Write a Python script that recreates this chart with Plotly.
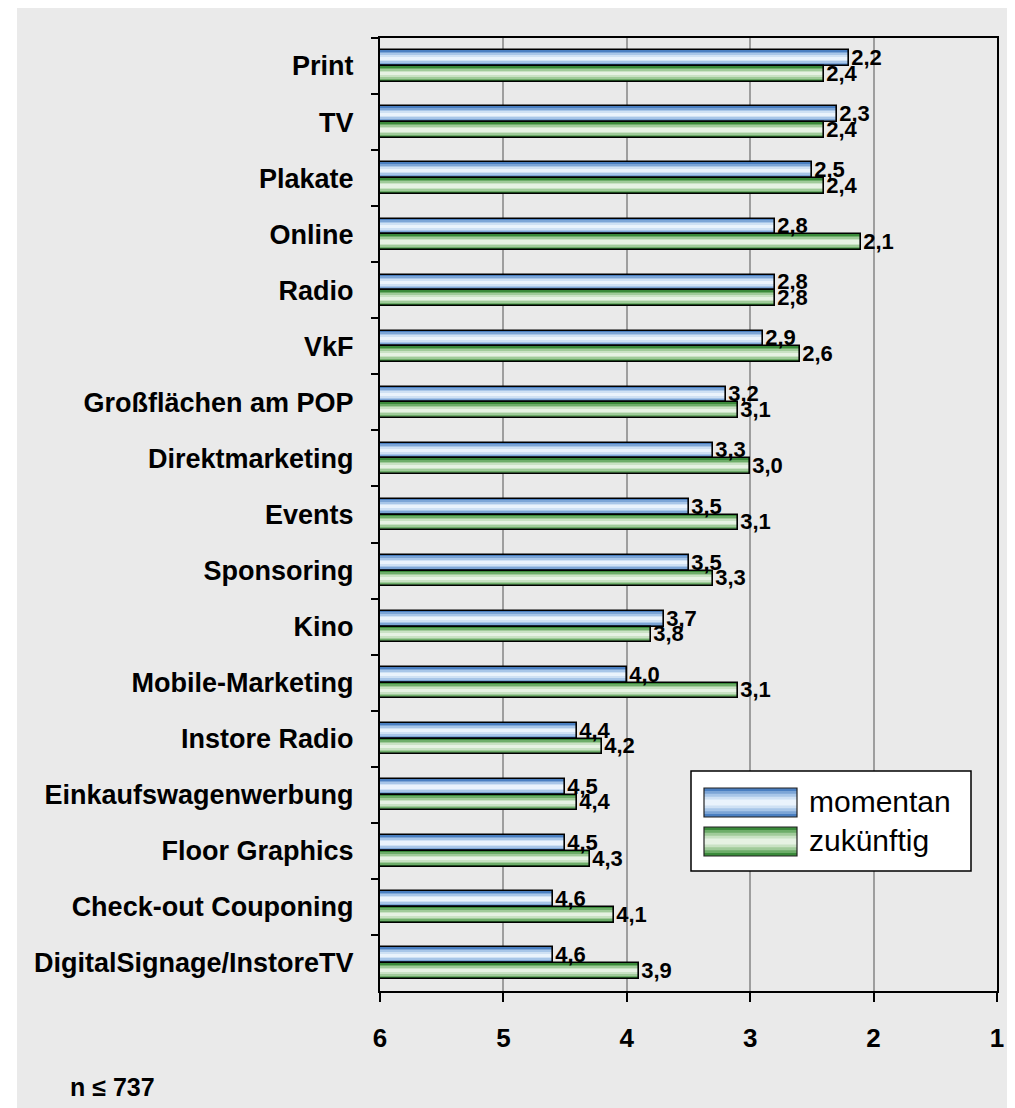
import plotly.graph_objects as go

# ---------------- data ----------------
categories = [
    "Print", "TV", "Plakate", "Online", "Radio", "VkF",
    "Großflächen am POP", "Direktmarketing", "Events", "Sponsoring",
    "Kino", "Mobile-Marketing", "Instore Radio", "Einkaufswagenwerbung",
    "Floor Graphics", "Check-out Couponing", "DigitalSignage/InstoreTV",
]
momentan = [2.2, 2.3, 2.5, 2.8, 2.8, 2.9, 3.2, 3.3, 3.5, 3.5, 3.7, 4.0, 4.4, 4.5, 4.5, 4.6, 4.6]
zukuenftig = [2.4, 2.4, 2.4, 2.1, 2.8, 2.6, 3.1, 3.0, 3.1, 3.3, 3.8, 3.1, 4.2, 4.4, 4.3, 4.1, 3.9]
series_names = ["momentan", "zukünftig"]
x_tick_values = [6, 5, 4, 3, 2, 1]
sample_note = "n ≤ 737"

# ---------------- styling ----------------
FONT = "Liberation Sans, Arial, sans-serif"
AXIS_START, AXIS_END = 6, 1
BAR_W = 0.28
FRACS = [1.0, 0.8, 0.6, 0.4, 0.2]
BLUE = ["#4A7FC1", "#7CA5D6", "#A8C6E8", "#CFE1F4", "#EAF3FC"]
GREEN = ["#3A8A3A", "#6DAD69", "#A0CB9A", "#C9E2C4", "#E6F2E3"]

PAGE_OFF = 8  # default body margin of the html page
W, H = 1015 - PAGE_OFF, 1108 - PAGE_OFF
ML, MR, MT, MB = 380 - PAGE_OFF, 18, 38 - PAGE_OFF, 117
PW, PH = W - ML - MR, H - MT - MB


def fmt(v):
    return f"{v:.1f}".replace(".", ",")


def px_x(px):
    # px given in page coordinates
    return (px - PAGE_OFF - ML) / PW


def px_y(py):
    return (H - MB - (py - PAGE_OFF)) / PH


fig = go.Figure()

series = [
    (series_names[0], momentan, BLUE, -BAR_W),
    (series_names[1], zukuenftig, GREEN, 0.0),
]

# gradient fill layers
for name, vals, shades, off in series:
    lengths = [v - AXIS_START for v in vals]
    for f, c in zip(FRACS, shades):
        fig.add_trace(go.Bar(
            y=categories, x=lengths, base=AXIS_START, orientation="h",
            width=BAR_W * f, offset=off + BAR_W * (1 - f) / 2,
            marker=dict(color=c, line=dict(width=0)),
            hoverinfo="skip", showlegend=False, name=name,
        ))

# outlines + value labels on top
for name, vals, shades, off in series:
    lengths = [v - AXIS_START for v in vals]
    fig.add_trace(go.Bar(
        y=categories, x=lengths, base=AXIS_START, orientation="h",
        width=BAR_W, offset=off,
        marker=dict(color="rgba(0,0,0,0)", line=dict(color="black", width=1.6)),
        text=[fmt(v) for v in vals], textposition="outside", textangle=0,
        constraintext="none", cliponaxis=False,
        textfont=dict(family=FONT, size=22, color="black", weight="bold"),
        customdata=vals, hovertemplate="%{y}: %{customdata}<extra>" + name + "</extra>",
        showlegend=False, name=name,
    ))

shapes = []
# gray panel
shapes.append(dict(type="rect", xref="paper", yref="paper", layer="below",
                   x0=px_x(17), x1=px_x(1030), y0=px_y(0), y1=px_y(1130),
                   fillcolor="#EAEAEA", line=dict(width=0)))

# custom legend
shapes.append(dict(type="rect", xref="paper", yref="paper", layer="above",
                   x0=px_x(691), x1=px_x(971), y0=px_y(871), y1=px_y(771),
                   fillcolor="white", line=dict(color="black", width=1.5)))
annotations = []
legend_rows = [(series_names[0], BLUE, 788, 817), (series_names[1], GREEN, 827, 856)]
for name, shades, top, bot in legend_rows:
    h = bot - top
    for f, c in zip(FRACS, shades):
        inset = h * (1 - f) / 2
        shapes.append(dict(type="rect", xref="paper", yref="paper", layer="above",
                           x0=px_x(704), x1=px_x(797),
                           y0=px_y(bot - inset), y1=px_y(top + inset),
                           fillcolor=c, line=dict(width=0)))
    shapes.append(dict(type="rect", xref="paper", yref="paper", layer="above",
                       x0=px_x(704), x1=px_x(797), y0=px_y(bot), y1=px_y(top),
                       fillcolor="rgba(0,0,0,0)", line=dict(color="#222222", width=1.2)))
    annotations.append(dict(text=name, xref="paper", yref="paper",
                            x=px_x(807), y=px_y((top + bot) / 2 - 1),
                            xanchor="left", yanchor="middle", showarrow=False,
                            font=dict(family=FONT, size=30, color="black")))

annotations.append(dict(text=sample_note, xref="paper", yref="paper",
                        x=px_x(68), y=px_y(1087), xanchor="left", yanchor="middle",
                        showarrow=False,
                        font=dict(family=FONT, size=25, color="black", weight="bold")))

fig.update_layout(
    width=W, height=H,
    margin=dict(l=ML, r=MR, t=MT, b=MB, pad=0),
    paper_bgcolor="white", plot_bgcolor="#EAEAEA",
    barmode="overlay", bargap=0,
    showlegend=False,
    shapes=shapes, annotations=annotations,
    font=dict(family=FONT, color="black"),
)

fig.update_xaxes(
    range=[AXIS_START, AXIS_END], tickvals=x_tick_values,
    ticktext=[str(v) for v in x_tick_values],
    ticks="outside", ticklen=9, tickwidth=1.5, tickcolor="black",
    showgrid=True, gridcolor="#9E9E9E", gridwidth=1.5,
    showline=True, linecolor="black", linewidth=2, mirror=True,
    zeroline=False, ticklabelstandoff=14,
    tickfont=dict(family=FONT, size=26, color="black", weight="bold"),
)
fig.update_yaxes(
    type="category", categoryorder="array", categoryarray=categories,
    autorange="reversed",
    ticks="outside", tickson="boundaries", ticklen=7, tickwidth=1.5, tickcolor="black",
    showgrid=False, showline=True, linecolor="black", linewidth=2, mirror=True,
    ticklabelstandoff=19,
    tickfont=dict(family=FONT, size=27, color="black", weight="bold"),
)

fig.write_html("out.html")
